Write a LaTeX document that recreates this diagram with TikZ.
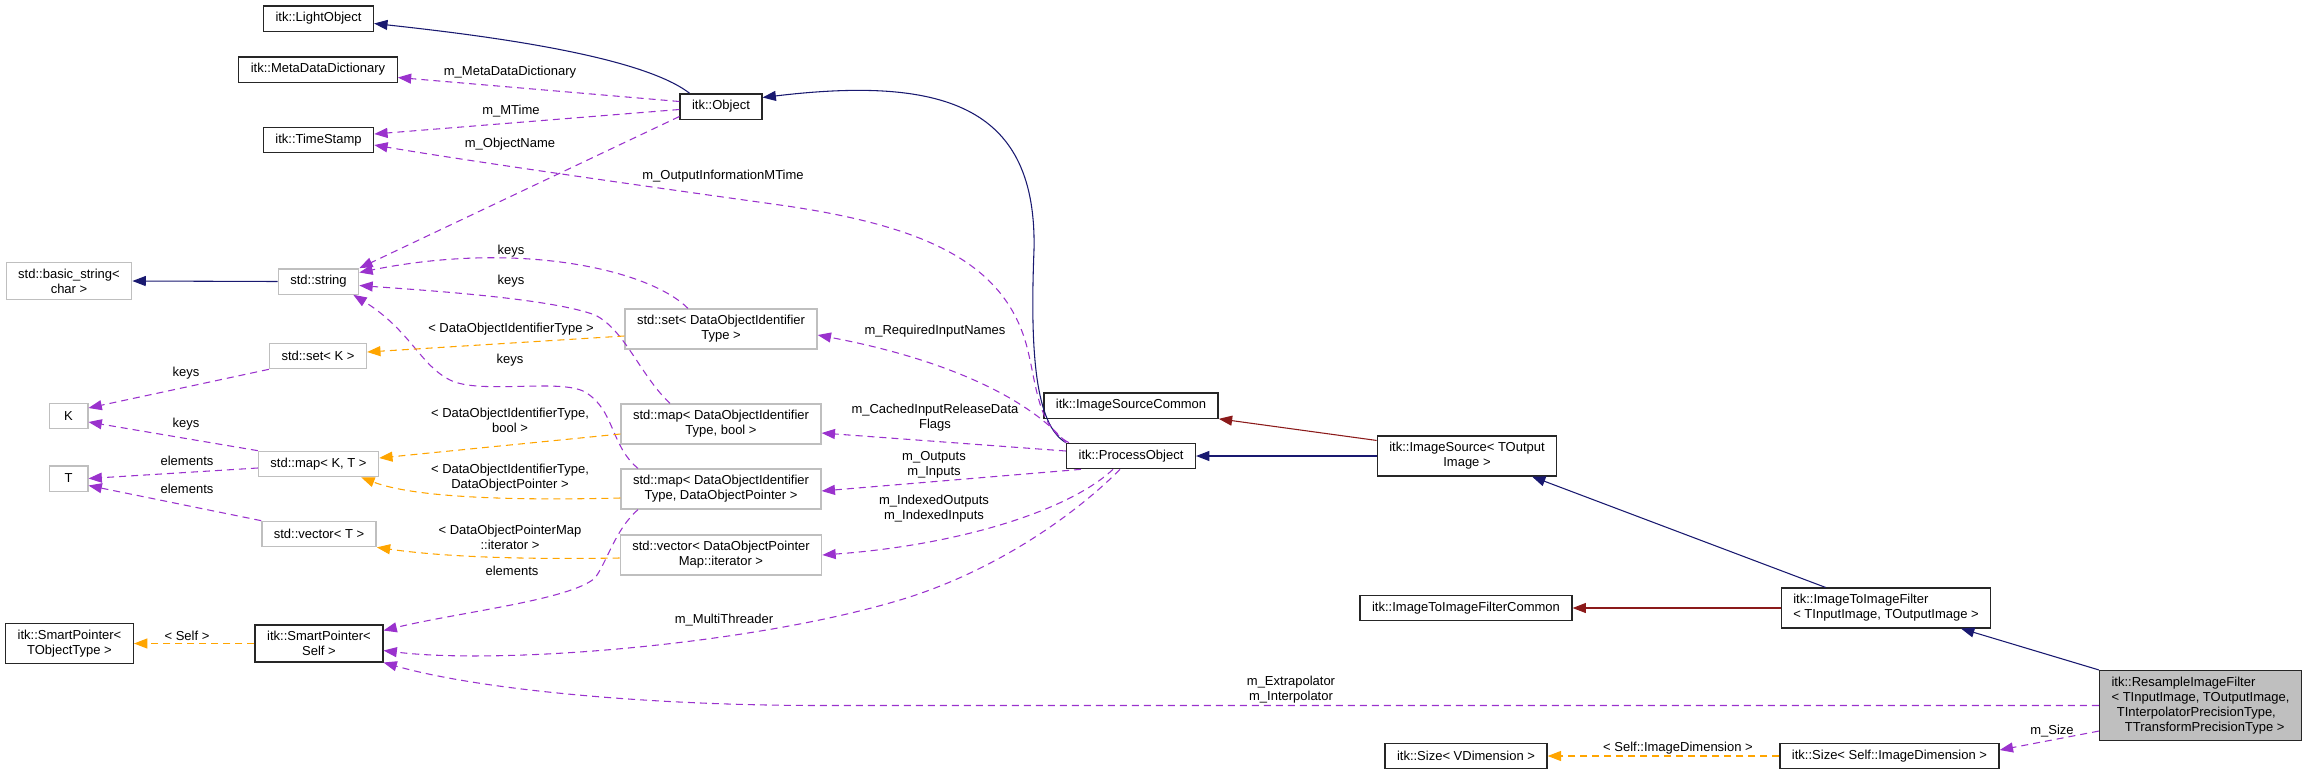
\documentclass[tikz,border=0pt]{standalone}
\usepackage{fontspec}
\setmainfont{Liberation Sans}
\usepackage{tikz}
\usetikzlibrary{arrows.meta,calc}
\definecolor{navy}{HTML}{191970}
\definecolor{brick}{HTML}{8B1A1A}
\definecolor{orchid}{HTML}{9A32CD}
\definecolor{amber}{HTML}{FFA500}
\definecolor{grey}{HTML}{BFBFBF}

\begin{document}
\begin{tikzpicture}[
  x=0.75pt,y=-0.75pt,
  every node/.style={font=\fontsize{9.75}{11.25}\selectfont,align=center},
  cls/.style={draw=black!85,line width=1pt,fill=white,inner xsep=9pt,inner ysep=4.75pt,
              minimum height=19pt},
  ext/.style={cls,draw=grey},
  lbl/.style={inner sep=0pt},
  inh/.style={-{Triangle[length=10pt,width=7.5pt]},navy,line width=0.8pt},
  priv/.style={inh,brick},
  memb/.style={inh,orchid,dash pattern=on 5.25pt off 3.75pt},
  tmpl/.style={memb,amber}
]
\useasboundingbox (0,0) rectangle (2307,775);

\node[cls] (light) at (318.5,18.5) {itk::LightObject};
\node[cls] (meta) at (318,69.5) {itk::MetaDataDictionary};
\node[cls] (stamp) at (318.5,140) {itk::TimeStamp};
\node[cls] (obj) at (721,106.5) {itk::Object};
\node[ext] (bstr) at (69,281) {std::basic\_string<\\char >};
\node[ext] (str) at (318.5,281.5) {std::string};
\node[ext] (setdoit) at (721,329) {std::set< DataObjectIdentifier\\Type >};
\node[ext] (setk) at (318,356) {std::set< K >};
\node[ext,minimum width=29pt] (nodeK) at (68.5,416) {K};
\node[ext] (mapbool) at (721,424) {std::map< DataObjectIdentifier\\Type, bool >};
\node[ext] (mapkt) at (318.5,464) {std::map< K, T >};
\node[ext,minimum width=29pt] (nodeT) at (68.5,478.5) {T};
\node[ext] (mapdop) at (721,489) {std::map< DataObjectIdentifier\\Type, DataObjectPointer >};
\node[ext] (vect) at (319,534) {std::vector< T >};
\node[ext] (vecdop) at (721,555) {std::vector< DataObjectPointer\\Map::iterator >};
\node[cls] (srccommon) at (1131,405.5) {itk::ImageSourceCommon};
\node[cls] (procobj) at (1131,456) {itk::ProcessObject};
\node[cls] (imgsrc) at (1467,456) {itk::ImageSource< TOutput\\Image >};
\node[cls] (filtcommon) at (1466,608) {itk::ImageToImageFilterCommon};
\node[cls,align=left] (imgfilt) at (1886,608) {itk::ImageToImageFilter\\< TInputImage, TOutputImage >};
\node[cls] (spobj) at (69.5,643.5) {itk::SmartPointer<\\TObjectType >};
\node[cls] (spself) at (319,643.5) {itk::SmartPointer<\\Self >};
\node[cls,fill=grey,align=left] (resample) at (2200.5,705.5) {itk::ResampleImageFilter\\< TInputImage, TOutputImage,\\\hspace{4pt}TInterpolatorPrecisionType,\\\hspace{10pt}TTransformPrecisionType >};
\node[cls] (sizev) at (1466,756) {itk::Size< VDimension >};
\node[cls] (sizeself) at (1889.5,756) {itk::Size< Self::ImageDimension >};

\node[lbl] (lmeta) at (510,72) {m\_MetaDataDictionary};
\node[lbl] (lmtime) at (511,111) {m\_MTime};
\node[lbl] (lobjname) at (510,144) {m\_ObjectName};
\node[lbl] (loutinfo) at (723,176) {m\_OutputInformationMTime};
\node[lbl] (lkeysa) at (511,251) {keys};
\node[lbl] (lkeysb) at (511,281) {keys};
\node[lbl] (ldoit) at (511,329) {< DataObjectIdentifierType >};
\node[lbl] (lkeysc) at (510,360) {keys};
\node[lbl] (lreq) at (935,331) {m\_RequiredInputNames};
\node[lbl] (lkeysk) at (186,373) {keys};
\node[lbl] (lcached) at (935,417.5) {m\_CachedInputReleaseData\\Flags};
\node[lbl] (lmapbool) at (510,420.5) {< DataObjectIdentifierType,\\bool >};
\node[lbl] (lkeysd) at (186,424) {keys};
\node[lbl] (lelema) at (187,461) {elements};
\node[lbl] (lio) at (934,464.5) {m\_Outputs\\m\_Inputs};
\node[lbl] (lmapdop) at (510,477.5) {< DataObjectIdentifierType,\\DataObjectPointer >};
\node[lbl] (lelemb) at (187,489) {elements};
\node[lbl] (lidx) at (934,508.5) {m\_IndexedOutputs\\m\_IndexedInputs};
\node[lbl] (lvec) at (510,537.5) {< DataObjectPointerMap\\::iterator >};
\node[lbl] (lelemc) at (512,571) {elements};
\node[lbl] (lthread) at (724,620) {m\_MultiThreader};
\node[lbl] (lself) at (187,636) {< Self >};
\node[lbl] (linterp) at (1291,689.5) {m\_Extrapolator\\m\_Interpolator};
\node[lbl] (lsize) at (2052,731) {m\_Size};
\node[lbl] (ldim) at (1678,748) {< Self::ImageDimension >};

\draw[inh] ($(obj.north west)+(10,0)$) .. controls (640,55) and (480,35) .. ($(light.east)+(0,5)$);
\draw[inh] (procobj.north west) .. controls (1035,425) and (1030,350) .. (1034,250)
  .. controls (1037,110) and (950,75) .. ($(obj.east)+(0,-9)$);
\draw[inh] (str.west) -- (bstr.east);
\draw[inh] (imgsrc.west) -- (procobj.east);
\draw[inh] ($(imgfilt.north west)+(45,0)$) -- ($(imgsrc.south)+(65,0)$);
\draw[inh] (resample.north west) -- ($(imgfilt.south)+(75,0)$);
\draw[priv] ($(imgsrc.north west)+(0,5)$) -- (srccommon.south east);
\draw[priv] (imgfilt.west) -- (filtcommon.east);

\draw[memb] ($(obj.west)+(0,-5)$) -- ($(meta.east)+(0,8)$);
\draw[memb] ($(obj.west)+(0,3)$) -- ($(stamp.east)+(0,-6)$);
\draw[memb] ($(procobj.north west)+(3,0)$) .. controls (1035,425) and (1037,380) .. (1025,340)
  .. controls (1000,260) and (920,225) .. (780,205)
  .. controls (600,180) and (450,158) .. ($(stamp.east)+(0,5)$);
\draw[memb] ($(obj.west)+(0,10)$) -- (str.north east);
\draw[memb] ($(setdoit.north)+(-33,0)$) .. controls (650,270) and (520,240) .. ($(str.east)+(0,-9)$);
\draw[memb] ($(mapbool.north)+(-51,0)$) .. controls (640,375) and (625,330) .. (595,315)
  .. controls (550,298) and (420,290) .. ($(str.east)+(0,4)$);
\draw[memb] ($(mapdop.north)+(-83,0)$) .. controls (610,445) and (615,410) .. (585,392)
  .. controls (560,378) and (480,395) .. (450,380)
  .. controls (420,365) and (410,330) .. ($(str.south east)+(-6,0)$);
\draw[memb] (setk.south west) -- ($(nodeK.east)+(0,-8)$);
\draw[memb] (mapkt.north west) -- ($(nodeK.east)+(0,6)$);
\draw[memb] ($(mapkt.west)+(0,4)$) -- (nodeT.east);
\draw[memb] (vect.north west) -- ($(nodeT.east)+(0,7)$);
\draw[memb] ($(mapdop.south)+(-83,0)$) .. controls (615,530) and (608,560) .. (595,578)
  .. controls (570,600) and (460,612) .. ($(spself.east)+(0,-13)$);
\draw[memb] ($(procobj.south)+(-11,0)$) .. controls (1080,510) and (1000,570) .. (900,600)
  .. controls (750,645) and (500,665) .. ($(spself.east)+(0,7)$);
\draw[memb] (resample.west) -- (820,705.5) .. controls (650,705.5) and (480,690) .. ($(spself.east)+(0,19)$);
\draw[memb] ($(resample.south west)+(0,-10)$) -- ($(sizeself.east)+(0,-6)$);
\draw[memb] (procobj.north west) .. controls (1030,400) and (950,360) .. ($(setdoit.east)+(0,6)$);
\draw[memb] ($(procobj.west)+(0,-5)$) -- ($(mapbool.east)+(0,9)$);
\draw[memb] ($(procobj.south west)+(15,0)$) -- ($(mapdop.east)+(0,2)$);
\draw[memb] ($(procobj.south)+(-18,0)$) .. controls (1070,510) and (960,545) .. (vecdop.east);

\draw[tmpl] ($(setdoit.west)+(0,7)$) -- ($(setk.east)+(0,-4)$);
\draw[tmpl] ($(mapbool.west)+(0,10)$) -- ($(mapkt.east)+(0,-6)$);
\draw[tmpl] ($(mapdop.west)+(0,9)$) .. controls (540,500) and (420,500) .. ($(mapkt.south east)+(-18,0)$);
\draw[tmpl] ($(vecdop.west)+(0,3)$) .. controls (500,560) and (430,555) .. (vect.south east);
\draw[tmpl] (spself.west) -- (spobj.east);
\draw[tmpl] (sizeself.west) -- (sizev.east);
\end{tikzpicture}
\end{document}
